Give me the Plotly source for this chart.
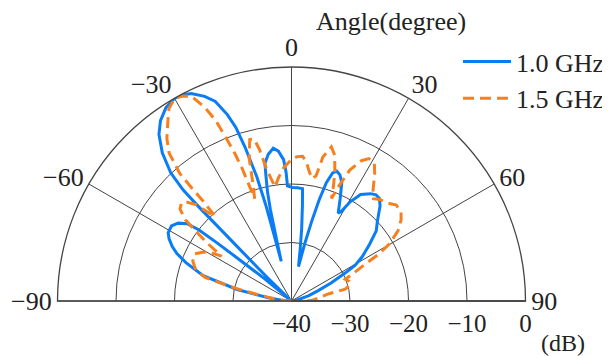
import plotly.graph_objects as go

# ---- data (angle in degrees, level in dB) ----
theta_10 = [-90, -86, -82, -78, -74, -70, -67.5, -65.5, -63, -61, -58, -55.5, -53.5, -52.5, -52, -51.5,
            -50.5, -48, -45.8, -45, -44.7, -44.6, -44.3, -43.3, -41.1, -38.5, -36, -33, -30, -28, -25.8,
            -23, -20.9, -19, -17.8, -16.8, -15.6, -15, -14.8, -14.5, -13.6, -13, -12.4, -11.5, -10.9, -9,
            -6.8, -5, -3.2, -2.4, -2, 0.4, 3, 5.6, 6.5, 8, 9.5, 11.5, 13, 14.2, 15.3, 16.4, 17.8, 19.2, 21,
            23, 25.4, 28, 29, 30.6, 33, 36.4, 38.5, 40.6, 43, 47.2, 50.4, 54, 57.9, 60.6, 62.4, 65.5, 68.7,
            73, 80, 90]
db_10 = [-40, -38.5, -36, -30.5, -24.3, -20.8, -18.8, -17.6, -16.5, -15.9, -15.8, -16.5, -17.8, -20, -24, -29,
         -34, -39.5, -34, -28, -22, -18, -13.5, -9.9, -6.4, -3.6, -1.9, -0.6, 0, -0.1, -0.6,
         -2, -3.5, -6.3, -8.8, -12.5, -18, -23, -28, -33, -29, -24, -20.9, -18, -16, -14.6,
         -13.7, -14.3, -15.8, -18, -20.3, -20.6, -20.6, -20.7, -23.5, -27.5, -31, -34, -30, -26, -22, -18.9, -17, -16.5, -16.9,
         -18, -20.6, -23, -22.5, -20.3, -18.3, -17.2, -16.8, -16.9, -17.8, -20, -21.2, -23.5, -25.7, -27.5, -29.6, -32.5, -35.1,
         -37, -39, -40]

theta_15 = [-90, -85, -80.5, -78, -76.8, -74.8, -72, -68, -64, -60.8, -59, -57.3, -55.5, -54, -52.6, -50.5,
            -48.3, -46.5, -44.6, -43.2, -42, -41.5, -41.4, -41.2, -39.6, -37.5, -35, -32.5, -30, -28, -26,
            -24.1, -22.8, -21.9, -21, -20.4, -19.8, -18, -16.5, -14.5, -13, -11.9, -10.7, -8.2, -6, -3.4, 0,
            2.3, 4.4, 6, 7.7, 9.5, 11.1, 12.3, 14.5, 16.5, 18.7, 20.3, 21.3, 22.5, 24, 26.5, 28.5, 31, 33,
            35, 36.8, 38.7, 41, 44.6, 47.5, 51, 53.5, 56.6, 59.7, 61.7, 63.5, 66, 68, 71, 74, 77.5, 79.2,
            84, 88, 90]
db_15 = [-40, -38, -35.7, -32, -29.6, -24.7, -22.8, -21.8, -21.6, -22.8, -24, -25.8, -22.5, -20, -17.2, -15.3,
         -14.8, -15.5, -16.9, -19.3, -20.5, -17, -14, -11, -7.2, -5, -3.1, -1, 0, -0.3, -1.1,
         -3.8, -6.5, -9.8, -13, -16, -21.4, -18.5, -14.5, -11.5, -11.6, -13.6, -17.1, -20.3, -18.8, -17.2, -15.8,
         -15.3, -15.2, -16, -17.6, -18.8, -18.2, -14.8, -12.8, -14, -16.9, -19.5, -21.2, -18.5, -15.5, -13.2, -12.3, -12.5, -13.9,
         -15.5, -16.8, -17.6, -17, -16.5, -15.7, -15.9, -16.7, -18.2, -20.6, -23, -26, -28.5, -30.1, -29.6, -29.4, -30.6, -33.6,
         -35.5, -36.5, -37.5]

angle_ticks = [-90, -60, -30, 0, 30, 60, 90]
angle_labels = ["\u221290", "\u221260", "\u221230", "0", "30", "60", "90"]
db_ticks = [-40, -30, -20, -10, 0]
db_labels = ["\u221240", "\u221230", "\u221220", "\u221210", "0"]

FONT = "Liberation Serif, Times New Roman, serif"
W, H = 610, 356
# polar domain placement (pixels); plotly draws the half disc ~7px right / 6px lower than the domain
cx, cy, R = 283.5, 293, 234

fig = go.Figure()
fig.add_trace(go.Scatterpolar(theta=theta_10, r=db_10, mode="lines", name="1.0 GHz",
                              line=dict(color="#0a7df5", width=3)))
fig.add_trace(go.Scatterpolar(theta=theta_15, r=db_15, mode="lines", name="1.5 GHz",
                              line=dict(color="#f7801e", width=3, dash="11px,6px")))

fig.update_layout(
    width=W, height=H,
    margin=dict(l=0, r=0, t=0, b=0),
    paper_bgcolor="white",
    font=dict(family=FONT, size=26, color="#222"),
    showlegend=True,
    legend=dict(x=450 / W, y=(H - 30) / H, xanchor="left", yanchor="top",
                font=dict(family=FONT, size=26, color="#222"),
                bgcolor="rgba(0,0,0,0)", itemwidth=48, tracegroupgap=6),
    polar=dict(
        domain=dict(x=[(cx - R) / W, (cx + R) / W], y=[(H - cy) / H, (H - cy + R) / H]),
        sector=[0, 180],
        bgcolor="white",
        angularaxis=dict(rotation=90, direction="clockwise", tickmode="array",
                         tickvals=angle_ticks, ticktext=angle_labels, ticks="",
                         showgrid=True, gridcolor="#444", gridwidth=1.2,
                         showline=True, linecolor="#444", linewidth=1.3,
                         tickfont=dict(family=FONT, size=26, color="#222")),
        radialaxis=dict(range=[-40, 0], tickmode="array", tickvals=db_ticks, ticktext=db_labels,
                        angle=0, side="clockwise", ticks="",
                        showgrid=True, gridcolor="#444", gridwidth=1.2,
                        showline=True, linecolor="#444", linewidth=1.3,
                        tickfont=dict(family=FONT, size=25, color="#222")),
    ),
    annotations=[
        dict(text="Angle(degree)", x=383 / W, y=(H - 14) / H, xref="paper", yref="paper",
             xanchor="center", yanchor="middle",
             showarrow=False, font=dict(family=FONT, size=26, color="#222")),
        dict(text="(dB)", x=555 / W, y=(H - 335) / H, xref="paper", yref="paper",
             xanchor="center", yanchor="middle",
             showarrow=False, font=dict(family=FONT, size=24, color="#222")),
    ],
)

fig.write_html("out.html")
